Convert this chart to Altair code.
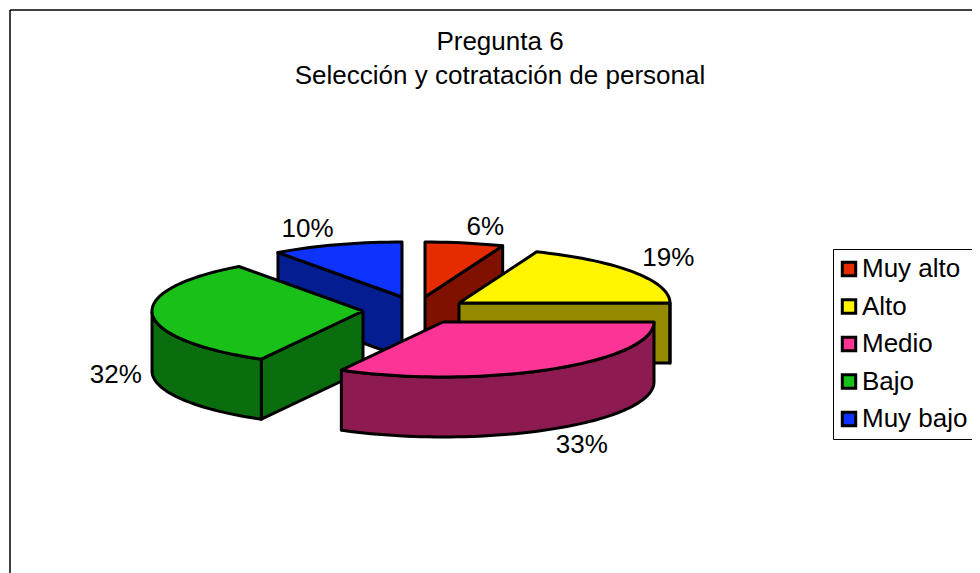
import numpy as np
import pandas as pd
import altair as alt

categories = ["Muy alto", "Alto", "Medio", "Bajo", "Muy bajo"]
shares = [6, 19, 33, 32, 10]
top_colors = ["#e62b00", "#fff500", "#fb3496", "#18c018", "#0f33ff"]
side_colors = ["#801000", "#948a00", "#8e1a52", "#0b6e0e", "#041d91"]
title_lines = ["Pregunta 6", "Selección y cotratación de personal"]

# layout of the exploded, tilted pie (page pixels)
APEX = {"Muy alto": (425, 297), "Alto": (459, 303), "Medio": (443, 322), "Bajo": (363, 311), "Muy bajo": (402, 297)}
RX, RY, DEPTH = 211, 55, 60
FONT = "Liberation Sans"
FS = 26

X = alt.X("x:Q", scale=alt.Scale(domain=[8, 972], nice=False, zero=False), axis=None)
Y = alt.Y("y:Q", scale=alt.Scale(domain=[573, 8], nice=False, zero=False), axis=None)


def pt(cat, deg, drop=0):
    ax, ay = APEX[cat]
    a = np.radians(deg)
    return ax + RX * np.sin(a), ay - RY * np.cos(a) + drop


def frame(poly, pid):
    return pd.DataFrame([{"x": p[0], "y": p[1], "i": k, "pid": pid} for k, p in enumerate(poly + poly[:1])])


starts = np.cumsum([0] + shares[:-1]) * 3.6
ends = np.cumsum(shares) * 3.6
geom = {c: (s, e) for c, s, e in zip(categories, starts, ends)}

layers = []
for cat in ["Muy bajo", "Muy alto", "Bajo", "Alto", "Medio"]:
    s, e = geom[cat]
    i = categories.index(cat)
    apex = APEX[cat]
    arc = np.arange(s, e + 0.01, 2.0).tolist()
    if arc[-1] != e:
        arc.append(e)
    sides = []
    # only the cut faces that turn towards the viewer
    for ang, vis in ((s, np.sin(np.radians(s)) < -1e-6), (e, np.sin(np.radians(e)) > 1e-6)):
        if vis:
            p = pt(cat, ang)
            sides.append([apex, p, (p[0], p[1] + DEPTH), (apex[0], apex[1] + DEPTH)])
    front = [a for a in arc if 90 <= a <= 270]
    if front:
        top_edge = [pt(cat, a) for a in front]
        bottom_edge = [pt(cat, a, DEPTH) for a in reversed(front)]
        sides.append(top_edge + bottom_edge)
    side_df = pd.concat([frame(poly, f"{cat}-{k}") for k, poly in enumerate(sides)])
    layers.append(
        alt.Chart(side_df).mark_line(stroke="black", strokeWidth=3, strokeJoin="round").encode(
            x=X, y=Y, order="i:Q", detail="pid:N", fill=alt.value(side_colors[i])
        )
    )
    top = frame([apex] + [pt(cat, a) for a in arc], cat)
    top["cat"] = cat
    layers.append(
        alt.Chart(top).mark_line(stroke="black", strokeWidth=3, strokeJoin="round").encode(
            x=X, y=Y, order="i:Q",
            fill=alt.Fill(
                "cat:N",
                scale=alt.Scale(domain=categories, range=top_colors),
                legend=alt.Legend(
                    title=None, orient="none", legendX=825, legendY=241,
                    labelFont=FONT, labelFontSize=FS, labelColor="black", labelLimit=200,
                    symbolType="square", symbolSize=180, symbolStrokeColor="black", symbolStrokeWidth=3,
                    symbolOpacity=1, symbolOffset=-4,
                    rowPadding=11.5, strokeColor="black", fillColor="white", padding=7, labelOffset=0,
                ),
            ),
        )
    )

# percentage labels, placed just outside each slice's mid angle
rows = []
for c, sh, s, e in zip(categories, shares, starts, ends):
    mid = np.radians((s + e) / 2)
    sn, cs = np.sin(mid), np.cos(mid)
    rows.append({
        "x": APEX[c][0] + 1.05 * RX * sn,
        "y": APEX[c][1] - 1.05 * RY * cs + (DEPTH if cs < 0 else 0),
        "t": f"{sh}%",
        "al": "left" if sn > 0 else "right",
        "bl": "middle" if abs(cs) < 0.3 else ("bottom" if cs > 0 else "top"),
    })
labels = pd.DataFrame(rows)
for (al, bl), g in labels.groupby(["al", "bl"]):
    layers.append(
        alt.Chart(g).mark_text(font=FONT, fontSize=FS, color="black", align=al, baseline=bl).encode(x=X, y=Y, text="t:N")
    )

# outer frame: the page cuts it off at the right and bottom
layers.append(alt.Chart(pd.DataFrame({"a": [0]})).mark_rule(color="black", strokeWidth=1.5).encode(
    x=alt.value(2), x2=alt.value(964), y=alt.value(2)))
layers.append(alt.Chart(pd.DataFrame({"a": [0]})).mark_rule(color="black", strokeWidth=1.5).encode(
    x=alt.value(2), y=alt.value(2), y2=alt.value(565)))

chart = alt.layer(*layers).properties(
    width=964, height=565, padding=0,
    autosize=alt.AutoSizeParams(type="none"),
    title=alt.Title(title_lines, font=FONT, fontSize=FS, fontWeight="normal", color="black",
                    anchor="middle", frame="group", offset=0, dx=10, dy=102, lineHeight=34, baseline="alphabetic"),
).configure_view(stroke=None)

chart.save("out.html", embed_options={"renderer": "svg", "actions": False})
